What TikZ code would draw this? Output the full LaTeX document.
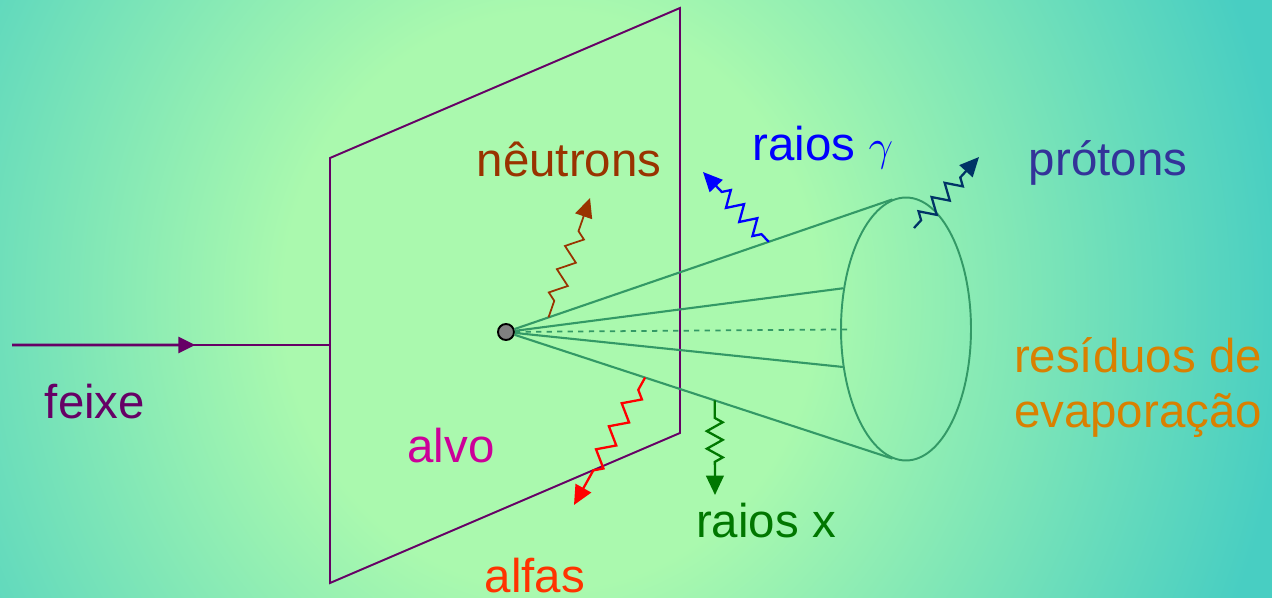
\documentclass[tikz,border=0pt]{standalone}
\usepackage{fontspec}
\setmainfont{Liberation Sans}
\usepackage{tikz}
\usetikzlibrary{shapes.geometric, arrows.meta, calc, decorations.pathmorphing}
\definecolor{fundoClaro}{HTML}{AAF9AE}
\definecolor{fundoEscuro}{HTML}{48CEC2}
\definecolor{roxoFeixe}{HTML}{660066}
\definecolor{verdeCone}{HTML}{339966}
\definecolor{marromNeutron}{HTML}{993300}
\definecolor{azulGama}{HTML}{0000FF}
\definecolor{azulProton}{HTML}{003366}
\definecolor{textoProton}{HTML}{333399}
\definecolor{vermelhoAlfa}{HTML}{FF0000}
\definecolor{textoAlfa}{HTML}{FF3300}
\definecolor{verdeX}{HTML}{007700}
\definecolor{laranjaResiduo}{HTML}{D98000}
\definecolor{magentaAlvo}{HTML}{CC0099}
\pgfdeclareradialshading{fundo}{\pgfpoint{0bp}{0bp}}{color(0bp)=(fundoClaro); color(9bp)=(fundoClaro); color(25bp)=(fundoEscuro); color(50bp)=(fundoEscuro)}

\begin{document}
\begin{tikzpicture}[x=0.02cm, y=-0.02cm, font=\fontsize{27}{32}\selectfont, >=Latex,
        rotulo/.style={anchor=base, inner sep=0pt},
        plano/.style={roxoFeixe, line width=1.1pt},
        cone/.style={verdeCone, line width=1.2pt},
        onda/.style={line width=1.3pt, -{Triangle[length=11pt, width=10pt]}, decorate,
            decoration={zigzag, amplitude=4.5pt, segment length=11pt, pre length=6pt, post length=15pt}}]
        \useasboundingbox (0,0) rectangle (1272,598);
        \clip (0,0) rectangle (1272,598);
        \fill[fundoEscuro] (0,0) rectangle (1272,598);
        \shade[shading=fundo] (-190,-500) rectangle (1290,1100);
        \coordinate (p1) at (330,158);
        \coordinate (p2) at (680,8);
        \coordinate (p3) at (680,433);
        \coordinate (p4) at (330,583);
        \draw[plano] (p1) -- (p2) -- (p3) -- (p4) -- cycle;
        \coordinate (fonte) at (12,345);
        \coordinate (entrada) at (330,345);
        \draw[roxoFeixe, line width=1.6pt, -{Triangle[length=9.5pt, width=9pt]}] (fonte) -- ($(fonte)!.576!(entrada)$);
        \draw[plano] ($(fonte)!.55!(entrada)$) -- (entrada);
        \node[circle, draw=black, fill=gray, line width=1.1pt, inner sep=0pt, minimum size=0.32cm] (alvo) at (506,332) {};
        \node[ellipse, draw=verdeCone, line width=1.1pt, inner sep=0pt, minimum width=2.6cm, minimum height=5.26cm] (res) at (906,329) {};
        \foreach \a in {96,147,211,264} \draw[cone] (alvo) -- (res.\a);
        \draw[cone, line width=1pt, dashed] (alvo) -- ($(alvo)!.86!(res.center)$);
        \coordinate (ponta-n) at (590,198);
        \coordinate (ponta-g) at (703,172);
        \coordinate (saida-p) at (914,228);
        \coordinate (ponta-p) at (979,157);
        \coordinate (ponta-a) at (574,505);
        \coordinate (ponta-x) at (715,495);
        \draw[onda, marromNeutron, line width=1pt, decoration={segment length=14pt, pre length=10pt, post length=16pt}] ($(alvo)!.11!(res.96)$) -- (ponta-n);
        \draw[onda, azulGama] ($(alvo)!.68!(res.96)$) -- (ponta-g);
        \draw[onda, azulProton] (saida-p) -- (ponta-p);
        \draw[onda, vermelhoAlfa, decoration={segment length=15pt, pre length=8pt, post length=18pt}] ($(alvo)!.36!(res.264)$) -- (ponta-a);
        \draw[onda, verdeX, decoration={segment length=10pt, pre length=10pt, post length=16pt}] ($(alvo)!.54!(res.264)$) -- (ponta-x);
        \node[rotulo, roxoFeixe] (t-feixe) at (95,418) {feixe};
        \node[rotulo, marromNeutron] (t-neutrons) at (569,176) {nêutrons};
        \node[rotulo, azulGama] (t-gama) at (823,161) {raios $\gamma$};
        \node[rotulo, textoProton] (t-protons) at (1108,175) {prótons};
        \node[rotulo, laranjaResiduo] (t-res1) at (1138,372) {resíduos de};
        \node[rotulo, laranjaResiduo] (t-res2) at (1138,427) {evaporação};
        \node[rotulo, magentaAlvo] (t-alvo) at (451,462) {alvo};
        \node[rotulo, textoAlfa] (t-alfas) at (535,592) {alfas};
        \node[rotulo, verdeX] (t-raiosx) at (766,537) {raios x};
    \end{tikzpicture}
\end{document}
